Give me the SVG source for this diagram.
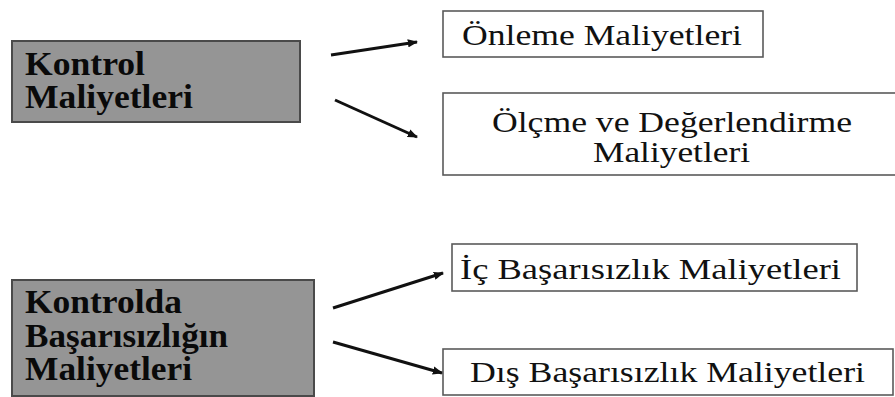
<svg xmlns="http://www.w3.org/2000/svg" width="895" height="397" viewBox="0 0 895 397">
  <style>
    .grey { fill: #959595; stroke: #4a4a4a; stroke-width: 2; }
    .plain { fill: #ffffff; stroke: #5a5a5a; stroke-width: 1.6; }
    .head { font-weight: bold; font-size: 33px; fill: #0a0a0a; }
    .item { font-size: 30px; fill: #111111; }
    .link { stroke: #111111; stroke-width: 3; fill: none; marker-end: url(#tip); }
  </style>
  <defs>
    <marker id="tip" viewBox="0 0 10 8" refX="9" refY="4" markerWidth="3.4" markerHeight="2.8" orient="auto" markerUnits="strokeWidth">
      <path d="M0,0 L10,4 L0,8 z" fill="#111111"/>
    </marker>
  </defs>

  <rect width="895" height="397" fill="#ffffff"/>

  <g font-family="Liberation Serif, Times New Roman, serif">
    <g id="kontrol">
      <rect class="grey" x="12" y="41" width="288" height="81"/>
      <text class="head" x="25" y="75" textLength="120" lengthAdjust="spacingAndGlyphs">Kontrol</text>
      <text class="head" x="25" y="108" textLength="168" lengthAdjust="spacingAndGlyphs">Maliyetleri</text>
    </g>

    <g id="onleme">
      <rect class="plain" x="443" y="11" width="320" height="46"/>
      <text class="item" x="462" y="45" textLength="280" lengthAdjust="spacingAndGlyphs">Önleme Maliyetleri</text>
    </g>

    <g id="olcme">
      <rect class="plain" x="443" y="93" width="455" height="82"/>
      <text class="item" x="492" y="132" textLength="360" lengthAdjust="spacingAndGlyphs">Ölçme ve Değerlendirme</text>
      <text class="item" x="593" y="162" textLength="157" lengthAdjust="spacingAndGlyphs">Maliyetleri</text>
    </g>

    <g id="basarisizlik">
      <rect class="grey" x="12" y="280" width="302" height="116"/>
      <text class="head" x="25" y="313" textLength="157" lengthAdjust="spacingAndGlyphs">Kontrolda</text>
      <text class="head" x="25" y="347" textLength="203" lengthAdjust="spacingAndGlyphs">Başarısızlığın</text>
      <text class="head" x="25" y="380" textLength="167" lengthAdjust="spacingAndGlyphs">Maliyetleri</text>
    </g>

    <g id="ic">
      <rect class="plain" x="452" y="244" width="405" height="47"/>
      <text class="item" x="460" y="279" textLength="381" lengthAdjust="spacingAndGlyphs">İç Başarısızlık Maliyetleri</text>
    </g>

    <g id="dis">
      <rect class="plain" x="443" y="349" width="450" height="46"/>
      <text class="item" x="470" y="382" textLength="395" lengthAdjust="spacingAndGlyphs">Dış Başarısızlık Maliyetleri</text>
    </g>
  </g>

  <g id="connectors">
    <line class="link" x1="331" y1="55" x2="417" y2="42"/>
    <line class="link" x1="335" y1="100" x2="417" y2="137"/>
    <line class="link" x1="333" y1="308" x2="443" y2="273"/>
    <line class="link" x1="333" y1="342" x2="442" y2="373"/>
  </g>
</svg>
